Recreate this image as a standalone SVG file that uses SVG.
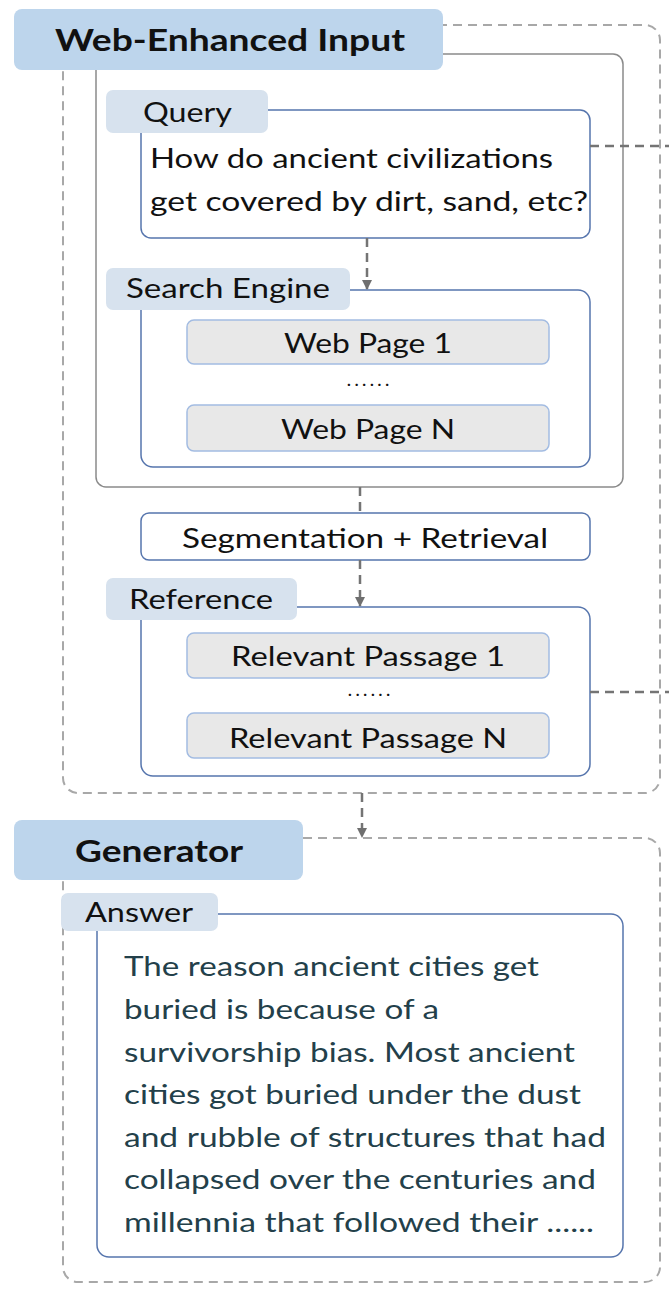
<svg xmlns="http://www.w3.org/2000/svg" width="669" height="1290" viewBox="0 0 669 1290">
<defs>
<marker id="arr" viewBox="0 0 10 10" refX="9" refY="5" markerWidth="10" markerHeight="10" markerUnits="userSpaceOnUse" orient="auto">
<path d="M0,0 L10,5 L0,10 z" fill="#6f6f6f"/>
</marker>
<style>
.outer{fill:none;stroke:#a8a8a8;stroke-width:2;stroke-dasharray:9,6}
.gray{fill:#fff;stroke:#8a8a8a;stroke-width:1.5}
.header{fill:#bdd5ec}
.label{fill:#d7e2ee}
.box{fill:#fff;stroke:#5675ad;stroke-width:1.5}
.item{fill:#e8e8e8;stroke:#a3bce2;stroke-width:1.5}
.conn{fill:none;stroke:#747474;stroke-width:2.5;stroke-dasharray:9,6}
.t{font-family:"Lato","Open Sans",sans-serif;font-size:27px;fill:#111}
.dots{font-family:"Lato","Open Sans",sans-serif;font-size:16px;fill:#111;font-weight:bold}
.hb{font-family:"Lato","Open Sans",sans-serif;font-size:30px;font-weight:bold;fill:#111}
.ans{font-family:"Lato","Open Sans",sans-serif;font-size:27px;fill:#23404a}
</style>
</defs>
<rect width="669" height="1290" fill="#fff"/>

<g id="web-enhanced-input">
<rect class="outer" x="63" y="25" width="597" height="768" rx="15"/>
<rect class="gray" x="96" y="54" width="527" height="433" rx="10"/>
<rect class="header" x="14" y="9" width="429" height="61" rx="8"/>
<text class="hb" x="55" y="51" textLength="350" lengthAdjust="spacingAndGlyphs">Web-Enhanced Input</text>
</g>

<g id="query">
<rect class="box" x="141" y="110" width="449" height="128" rx="10"/>
<rect class="label" x="106" y="90" width="162" height="43" rx="7"/>
<text class="t" x="143" y="122" textLength="89" lengthAdjust="spacingAndGlyphs">Query</text>
<text class="t" x="150" y="168" textLength="403" lengthAdjust="spacingAndGlyphs">How do ancient civilizations</text>
<text class="t" x="150" y="211" textLength="438" lengthAdjust="spacingAndGlyphs">get covered by dirt, sand, etc?</text>
</g>

<g id="search-engine">
<rect class="box" x="141" y="290" width="449" height="177" rx="12"/>
<rect class="label" x="106" y="268" width="244" height="42" rx="7"/>
<text class="t" x="126" y="298" textLength="204" lengthAdjust="spacingAndGlyphs">Search Engine</text>
<rect class="item" x="187" y="320" width="362" height="44" rx="7"/>
<text class="t" x="368" y="353" text-anchor="middle" textLength="168" lengthAdjust="spacingAndGlyphs">Web Page 1</text>
<text class="dots" x="347" y="386" textLength="42" lengthAdjust="spacing">......</text>
<rect class="item" x="187" y="405" width="362" height="46" rx="7"/>
<text class="t" x="368" y="439" text-anchor="middle" textLength="174" lengthAdjust="spacingAndGlyphs">Web Page N</text>
</g>

<g id="segmentation-retrieval">
<rect class="box" x="141" y="513" width="449" height="47" rx="8" stroke="#8fa9d6"/>
<text class="t" x="365" y="548" text-anchor="middle" textLength="366" lengthAdjust="spacingAndGlyphs">Segmentation + Retrieval</text>
</g>

<g id="reference">
<rect class="box" x="141" y="607" width="449" height="169" rx="12"/>
<rect class="label" x="106" y="578" width="191" height="42" rx="7"/>
<text class="t" x="129" y="609" textLength="144" lengthAdjust="spacingAndGlyphs">Reference</text>
<rect class="item" x="187" y="633" width="362" height="45" rx="7"/>
<text class="t" x="368" y="666" text-anchor="middle" textLength="274" lengthAdjust="spacingAndGlyphs">Relevant Passage 1</text>
<text class="dots" x="348" y="696" textLength="42" lengthAdjust="spacing">......</text>
<rect class="item" x="187" y="713" width="362" height="45" rx="7"/>
<text class="t" x="368" y="748" text-anchor="middle" textLength="278" lengthAdjust="spacingAndGlyphs">Relevant Passage N</text>
</g>

<g id="generator">
<rect class="outer" x="63" y="838" width="597" height="444" rx="15"/>
<rect class="header" x="14" y="820" width="289" height="60" rx="8"/>
<text class="hb" x="75" y="862" textLength="168" lengthAdjust="spacingAndGlyphs">Generator</text>
</g>

<g id="answer">
<rect class="box" x="97" y="914" width="526" height="343" rx="12"/>
<rect class="label" x="61" y="893" width="157" height="38" rx="7"/>
<text class="t" x="85" y="922" textLength="108" lengthAdjust="spacingAndGlyphs">Answer</text>
<text class="ans" x="124" y="976" textLength="415" lengthAdjust="spacingAndGlyphs">The reason ancient cities get</text>
<text class="ans" x="124" y="1019" textLength="315" lengthAdjust="spacingAndGlyphs">buried is because of a</text>
<text class="ans" x="124" y="1062" textLength="451" lengthAdjust="spacingAndGlyphs">survivorship bias. Most ancient</text>
<text class="ans" x="124" y="1104" textLength="457" lengthAdjust="spacingAndGlyphs">cities got buried under the dust</text>
<text class="ans" x="124" y="1147" textLength="482" lengthAdjust="spacingAndGlyphs">and rubble of structures that had</text>
<text class="ans" x="124" y="1189" textLength="472" lengthAdjust="spacingAndGlyphs">collapsed over the centuries and</text>
<text class="ans" x="124" y="1232" textLength="470" lengthAdjust="spacingAndGlyphs">millennia that followed their ......</text>
</g>

<g id="connectors">
<path class="conn" d="M590,146 H669"/>
<path class="conn" d="M590,692 H669"/>
<path class="conn" d="M367,238 V289" marker-end="url(#arr)"/>
<path class="conn" d="M360,487 V513"/>
<path class="conn" d="M360,560 V606" marker-end="url(#arr)"/>
<path class="conn" d="M362,793 V837" marker-end="url(#arr)"/>
</g>
</svg>
